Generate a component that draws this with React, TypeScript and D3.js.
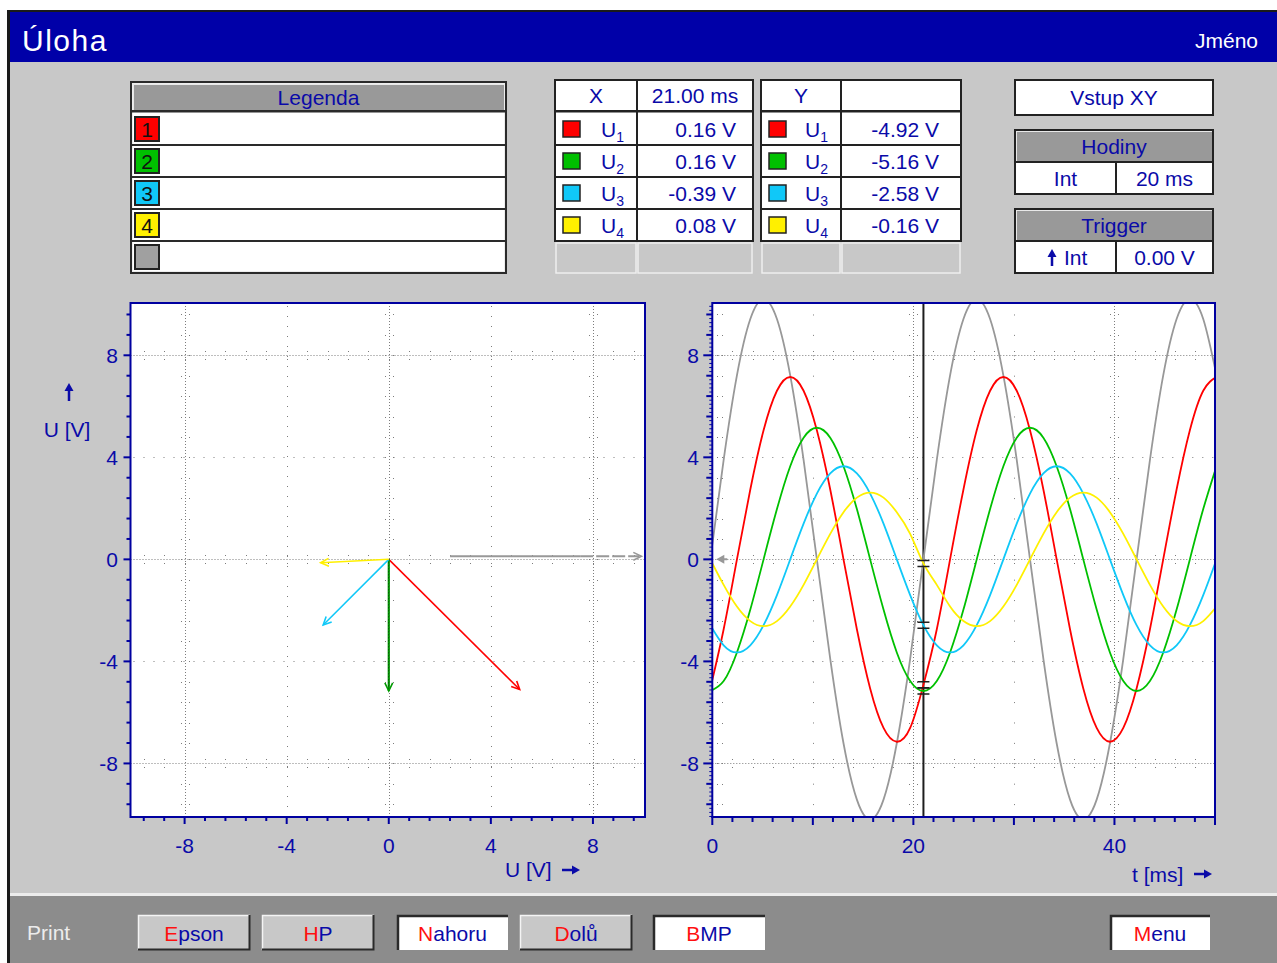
import React from 'react';
import * as d3 from 'd3';

// ---------- data ----------
const CHANNELS = ['1', '2', '3', '4'];
const CHANNEL_COLORS = ['#ff0000', '#00c000', '#10c8f8', '#fff000'];
const REF_COLOR = '#989898';

const CURSOR_MS = 21.0;
const X_READINGS = [0.16, 0.16, -0.39, 0.08];
const Y_READINGS = [-4.92, -5.16, -2.58, -0.16];
const CLOCK_MS = 20;
const TRIGGER_LEVEL = 0.0;

// sample instants of the recorded waveforms
const TIME_MS = [
  -0.2, 1.13, 2.45, 3.78, 5.1, 6.43, 7.75, 9.08, 10.4, 11.73, 13.05, 14.38, 15.7,
  17.03, 18.35, 19.68, 21.0, 22.33, 23.65, 24.98, 26.3, 27.63, 28.95, 30.28, 31.6,
  32.93, 34.25, 35.58, 36.9, 38.23, 39.55, 40.88, 42.2, 43.53, 44.85, 46.18, 47.5,
  48.83, 50.15,
];

// reference channel (grey)
const U_REF = [
  0, 3.9, 7.21, 9.42, 10.2, 9.42, 7.21, 3.9, 0, -3.9, -7.21, -9.42, -10.2, -9.42, -7.21, -3.9,
  0, 3.9, 7.21, 9.42, 10.2, 9.42, 7.21, 3.9, 0, -3.9, -7.21, -9.42, -10.2, -9.42, -7.21, -3.9,
  0, 3.9, 7.21, 9.42, 10.2, 9.42, 7.21,
];
const U1 = [
  -5.06, -2.74, 0, 2.74, 5.06, 6.61, 7.15, 6.61, 5.06, 2.74, 0, -2.74, -5.06, -6.61, -7.15, -6.61,
  -4.92, -2.74, 0, 2.74, 5.06, 6.61, 7.15, 6.61, 5.06, 2.74, 0, -2.74, -5.06, -6.61, -7.15, -6.61,
  -5.06, -2.74, 0, 2.74, 5.06, 6.61, 7.15,
];
const U2 = [
  -5.16, -4.77, -3.65, -1.97, 0, 1.97, 3.65, 4.77, 5.16, 4.77, 3.65, 1.97, 0, -1.97, -3.65, -4.77,
  -5.16, -4.77, -3.65, -1.97, 0, 1.97, 3.65, 4.77, 5.16, 4.77, 3.65, 1.97, 0, -1.97, -3.65, -4.77,
  -5.16, -4.77, -3.65, -1.97, 0, 1.97, 3.65,
];
const U3 = [
  -2.58, -3.37, -3.65, -3.37, -2.58, -1.4, 0, 1.4, 2.58, 3.37, 3.65, 3.37, 2.58, 1.4, 0, -1.4,
  -2.58, -3.37, -3.65, -3.37, -2.58, -1.4, 0, 1.4, 2.58, 3.37, 3.65, 3.37, 2.58, 1.4, 0, -1.4,
  -2.58, -3.37, -3.65, -3.37, -2.58, -1.4, 0,
];
const U4 = [
  0, -1.0, -1.85, -2.42, -2.62, -2.42, -1.85, -1.0, 0, 1.0, 1.85, 2.42, 2.62, 2.42, 1.85, 1.0,
  -0.16, -1.0, -1.85, -2.42, -2.62, -2.42, -1.85, -1.0, 0, 1.0, 1.85, 2.42, 2.62, 2.42, 1.85, 1.0,
  0, -1.0, -1.85, -2.42, -2.62, -2.42, -1.85,
];
const WAVES = [U1, U2, U3, U4];

// phasor end points in the XY view
const PHASOR_X = [5.13, 0.0, -2.57, -2.67];
const PHASOR_Y = [-5.1, -5.16, -2.57, -0.13];
// grey reference vector: start, end of solid part, tip
const REF_VECTOR_X = [2.4, 7.5, 9.9];
const REF_VECTOR_Y = 0.12;

const U_TICKS = [-8, -4, 0, 4, 8];
const T_TICKS = [0, 20, 40];

// ---------- style ----------
const NAVY = '#0a0aa8';
const FRAME = '#0000a0';
const DOT = '#7c7c7c';
const FONT = "'Liberation Sans', Arial, sans-serif";
const PANEL = '#c8c8c8';

const fmtV = (v: number) => `${v.toFixed(2)} V`;

function Txt(props: any) {
  const { x, y, children, size = 21, anchor = 'middle', fill = NAVY, ls = 0 } = props;
  return (
    <text x={x} y={y} fontSize={size} textAnchor={anchor} fill={fill} fontFamily={FONT} letterSpacing={ls}>
      {children}
    </text>
  );
}

// heavy arrow glyph drawn as a path (dir: 'right' | 'up')
function ArrowGlyph({ x, y, dir, len = 18, color = NAVY }: any) {
  if (dir === 'right') {
    return (
      <g fill={color} stroke="none">
        <rect x={x} y={y - 1.25} width={len - 6} height={2.5} />
        <path d={`M${x + len},${y} L${x + len - 8},${y - 4.5} L${x + len - 8},${y + 4.5} Z`} />
      </g>
    );
  }
  return (
    <g fill={color} stroke="none">
      <rect x={x - 1.25} y={y - len + 6} width={2.5} height={len - 6} />
      <path d={`M${x},${y - len} L${x - 4.5},${y - len + 8} L${x + 4.5},${y - len + 8} Z`} />
    </g>
  );
}

function ULabel({ x, y, i }: { x: number; y: number; i: string }) {
  return (
    <text x={x} y={y} fontSize={21} fill={NAVY} fontFamily={FONT}>
      U<tspan fontSize={14} dy={5}>{i}</tspan>
    </text>
  );
}

function GreyHeader({ x, y, w, h, label }: any) {
  return (
    <g>
      <rect x={x} y={y} width={w} height={h} fill="#999999" />
      <line x1={x} x2={x + w} y1={y + 0.5} y2={y + 0.5} stroke="#e8e8e8" />
      <line x1={x + 0.5} x2={x + 0.5} y1={y} y2={y + h} stroke="#e8e8e8" />
      <Txt x={x + w / 2} y={y + h / 2 + 7.5}>{label}</Txt>
    </g>
  );
}

function LegendTable() {
  const x0 = 131, x1 = 506;
  const rows = [113, 145, 177, 209, 241];
  const swatch = [...CHANNEL_COLORS, '#a0a0a0'];
  return (
    <g>
      <rect x={x0} y={82} width={x1 - x0} height={191} fill="#ffffff" stroke="#2a2a2a" strokeWidth={2} />
      <rect x={x0 + 1.5} y={83.5} width={x1 - x0 - 3} height={188} fill="none" stroke="#ededed" strokeWidth={1} />
      <GreyHeader x={x0 + 2} y={84} w={x1 - x0 - 4} h={26} label="Legenda" />
      <rect x={x0 + 1} y={110} width={x1 - x0 - 2} height={2.5} fill="#2a2a2a" />
      {rows.slice(1).map((ry) => (
        <rect key={ry} x={x0 + 1} y={ry - 1} width={x1 - x0 - 2} height={2} fill="#2a2a2a" />
      ))}
      {rows.map((ry, i) => (
        <g key={i}>
          <rect x={135} y={ry + 4} width={24} height={24} fill={swatch[i]} stroke="#222" strokeWidth={2} />
          {i < 4 && (
            <Txt x={147} y={ry + 24} fill="#111" size={21}>{CHANNELS[i]}</Txt>
          )}
        </g>
      ))}
    </g>
  );
}

function ReadingTable({ x0, xm, x1, head, headValue, values, swatchX, labelX, valueX }: any) {
  const rowTop = [113, 145, 177, 209];
  return (
    <g>
      <rect x={x0} y={80} width={x1 - x0} height={161} fill="#ffffff" stroke="#222" strokeWidth={2} />
      <rect x={x0} y={110} width={x1 - x0} height={2.5} fill="#222" />
      {rowTop.slice(1).map((ry) => (
        <rect key={ry} x={x0} y={ry - 1} width={x1 - x0} height={2} fill="#222" />
      ))}
      <rect x={xm - 1} y={80} width={2} height={161} fill="#222" />
      <Txt x={(x0 + xm) / 2} y={103}>{head}</Txt>
      {headValue && <Txt x={(xm + x1) / 2} y={103}>{headValue}</Txt>}
      {rowTop.map((ry, i) => (
        <g key={i}>
          <rect x={swatchX} y={ry + 8} width={17} height={16} fill={CHANNEL_COLORS[i]} stroke="#222" strokeWidth={1.5} />
          <ULabel x={labelX} y={ry + 24} i={CHANNELS[i]} />
          <Txt x={valueX} y={ry + 24} anchor="end">{fmtV(values[i])}</Txt>
        </g>
      ))}
      {/* empty spare row */}
      <rect x={x0 + 1} y={243} width={xm - x0 - 2} height={30} fill={PANEL} stroke="#eeeeee" strokeWidth={1.5} />
      <rect x={xm + 1} y={243} width={x1 - xm - 2} height={30} fill={PANEL} stroke="#eeeeee" strokeWidth={1.5} />
    </g>
  );
}

function TwoCellBox({ y, title, left, right, leftArrow }: any) {
  const x0 = 1015, x1 = 1213, xm = 1116;
  return (
    <g>
      <rect x={x0} y={y} width={x1 - x0} height={64} fill="#ffffff" stroke="#222" strokeWidth={2} />
      <GreyHeader x={x0 + 1} y={y + 1} w={x1 - x0 - 2} h={30} label={title} />
      <rect x={x0} y={y + 31} width={x1 - x0} height={2} fill="#222" />
      <rect x={xm - 1} y={y + 31} width={2} height={33} fill="#222" />
      {leftArrow ? (
        <>
          <ArrowGlyph x={1052} y={y + 57} dir="up" len={17} />
          <Txt x={1064} y={y + 56} anchor="start">{left}</Txt>
        </>
      ) : (
        <Txt x={(x0 + xm) / 2} y={y + 56}>{left}</Txt>
      )}
      <Txt x={(xm + x1) / 2} y={y + 56}>{right}</Txt>
    </g>
  );
}

function Button({ x, w, label, sunken }: any) {
  const y = 915, h = 35;
  return (
    <g>
      <rect x={x} y={y} width={w} height={h} fill={sunken ? '#ffffff' : PANEL} />
      {sunken ? (
        <path d={`M${x + 1},${y + h} V${y + 1} H${x + w}`} fill="none" stroke="#2a2a2a" strokeWidth={2.5} />
      ) : (
        <>
          <path d={`M${x + 0.5},${y + h} V${y + 0.5} H${x + w}`} fill="none" stroke="#f4f4f4" strokeWidth={1.5} />
          <path d={`M${x},${y + h - 0.5} H${x + w - 0.5} V${y}`} fill="none" stroke="#2a2a2a" strokeWidth={2} />
        </>
      )}
      <text x={x + w / 2} y={y + 26} textAnchor="middle" fontSize={21} fontFamily={FONT}>
        <tspan fill="#ff1010">{label[0]}</tspan>
        <tspan fill={NAVY}>{label.slice(1)}</tspan>
      </text>
    </g>
  );
}

function Arrowhead({ x, y, angle, color, size = 9 }: any) {
  const a1 = angle + Math.PI - 0.45;
  const a2 = angle + Math.PI + 0.45;
  return (
    <path
      d={`M${x + size * Math.cos(a1)},${y + size * Math.sin(a1)} L${x},${y} L${x + size * Math.cos(a2)},${y + size * Math.sin(a2)}`}
      fill="none"
      stroke={color}
      strokeWidth={1.6}
    />
  );
}

function Dots({ pts }: { pts: [number, number][] }) {
  return (
    <g fill={DOT}>
      {pts.map(([px, py], i) => (
        <rect key={i} x={Math.round(px)} y={Math.round(py)} width={1} height={1} />
      ))}
    </g>
  );
}

export default function App() {
  const xL = d3.scaleLinear().domain([-10.12, 10.04]).range([130.5, 645]);
  const yU = d3.scaleLinear().domain([-10.1, 10.05]).range([817, 303]);
  const xT = d3.scaleLinear().domain([0, 50]).range([712.3, 1215]);

  const stepU = d3.range(-12, 13).map((k) => +(k * 0.8).toFixed(2));
  const stepT = d3.range(0, 51, 2);
  const combU = d3.range(-63, 63).map((k) => k * 0.16);
  const dense = [-8, 0, 8];
  const sparse = [-4, 4];

  const L = { x0: 130.5, x1: 645, y0: 303, y1: 817 };
  const R = { x0: 712.3, x1: 1215, y0: 303, y1: 817 };
  const px = (v: number) => Math.round(v) + 0.5;

  const wave = d3
    .line<number>()
    .x((_, i) => xT(TIME_MS[i]))
    .y((d) => yU(d))
    .curve(d3.curveNatural);

  // ---- grid dots ----
  const crossDotsL: [number, number][] = [];
  dense.forEach((v) => {
    stepU.forEach((p) => {
      if (p === v) return;
      crossDotsL.push([xL(p), yU(v) - 4], [xL(p), yU(v) + 4]);
      crossDotsL.push([xL(v) - 4, yU(p)], [xL(v) + 4, yU(p)]);
    });
  });
  const crossDotsR: [number, number][] = [];
  dense.forEach((v) => {
    stepT.forEach((p) => {
      if (p === 0 || p === 50) return;
      crossDotsR.push([xT(p), yU(v) - 4], [xT(p), yU(v) + 4]);
    });
  });
  [20, 40].forEach((t) => {
    stepU.forEach((p) => {
      crossDotsR.push([xT(t) - 4, yU(p)], [xT(t) + 4, yU(p)]);
    });
  });
  stepU.forEach((p) => {
    crossDotsR.push([xT(0) + 5, yU(p)], [xT(0) + 10, yU(p)]);
  });

  const cx = xT(CURSOR_MS);

  return (
    <div style={{ position: 'absolute', left: 0, top: 0 }}>
      <svg width={1277} height={963} viewBox="0 0 1277 963" style={{ display: 'block' }}>
        <defs>
          <clipPath id="clipL">
            <rect x={L.x0} y={L.y0} width={L.x1 - L.x0} height={L.y1 - L.y0} />
          </clipPath>
          <clipPath id="clipR">
            <rect x={R.x0} y={R.y0} width={R.x1 - R.x0} height={R.y1 - R.y0} />
          </clipPath>
        </defs>

        {/* window */}
        <rect x={0} y={0} width={1277} height={963} fill="#ffffff" />
        <rect x={7} y={10} width={1270} height={953} fill="#1a1a1a" />
        <rect x={10} y={12} width={1267} height={951} fill={PANEL} />
        <rect x={10} y={12} width={1267} height={50} fill="#0000a8" />
        <text x={22} y={51} fontSize={30} fill="#ffffff" fontFamily={FONT} letterSpacing={1.5}>Úloha</text>
        <text x={1258} y={48} fontSize={21} fill="#ffffff" fontFamily={FONT} textAnchor="end">Jméno</text>

        {/* info tables */}
        <LegendTable />
        <ReadingTable x0={555} xm={637} x1={753} head="X" headValue={`${CURSOR_MS.toFixed(2)} ms`} values={X_READINGS} swatchX={563} labelX={601} valueX={736} />
        <ReadingTable x0={761} xm={841} x1={961} head="Y" headValue="" values={Y_READINGS} swatchX={769} labelX={805} valueX={939} />

        <rect x={1015} y={80} width={198} height={35} fill="#ffffff" stroke="#222" strokeWidth={2} />
        <Txt x={1114} y={105}>Vstup XY</Txt>
        <TwoCellBox y={130} title="Hodiny" left="Int" right={`${CLOCK_MS} ms`} />
        <TwoCellBox y={209} title="Trigger" left="Int" right={fmtV(TRIGGER_LEVEL)} leftArrow />

        {/* ===== XY plot ===== */}
        <rect x={L.x0} y={L.y0} width={L.x1 - L.x0} height={L.y1 - L.y0} fill="#ffffff" />
        <g stroke={DOT} strokeWidth={1}>
          {dense.map((v) => (
            <g key={'d' + v}>
              <line x1={L.x0} x2={L.x1} y1={px(yU(v))} y2={px(yU(v))} strokeDasharray="1 2" />
              <line y1={L.y0} y2={L.y1} x1={px(xL(v))} x2={px(xL(v))} strokeDasharray="1 2" />
            </g>
          ))}
          {sparse.map((v) => (
            <g key={'s' + v}>
              <line x1={L.x0 + 3} x2={L.x1} y1={px(yU(v))} y2={px(yU(v))} strokeDasharray="1 9" />
              <line y1={L.y0 + 3} y2={L.y1} x1={px(xL(v))} x2={px(xL(v))} strokeDasharray="1 9" />
            </g>
          ))}
        </g>
        <Dots pts={crossDotsL} />

        <g clipPath="url(#clipL)">
          {/* reference vector */}
          <line x1={xL(REF_VECTOR_X[0])} x2={xL(REF_VECTOR_X[1])} y1={yU(REF_VECTOR_Y)} y2={yU(REF_VECTOR_Y)} stroke={REF_COLOR} strokeWidth={2} />
          <line x1={xL(REF_VECTOR_X[1])} x2={xL(REF_VECTOR_X[2]) - 2} y1={yU(REF_VECTOR_Y)} y2={yU(REF_VECTOR_Y)} stroke={REF_COLOR} strokeWidth={2} strokeDasharray="13 3" />
          <Arrowhead x={xL(REF_VECTOR_X[2])} y={yU(REF_VECTOR_Y)} angle={0} color={REF_COLOR} />
          {PHASOR_X.map((vx, i) => {
            const x0 = xL(0), y0 = yU(0), x1 = xL(vx), y1 = yU(PHASOR_Y[i]);
            const ang = Math.atan2(y1 - y0, x1 - x0);
            return (
              <g key={i}>
                <line x1={x0} y1={y0} x2={x1} y2={y1} stroke={i === 1 ? '#009a00' : CHANNEL_COLORS[i]} strokeWidth={i === 1 ? 2.2 : 1.5} />
                {i === 1 && <line x1={x0} y1={y0} x2={x1} y2={y1} stroke="#0a2a0a" strokeWidth={1} strokeDasharray="1 2" />}
                <Arrowhead x={x1} y={y1} angle={ang} color={i === 1 ? '#009a00' : CHANNEL_COLORS[i]} />
              </g>
            );
          })}
        </g>
        <rect x={L.x0} y={L.y0} width={L.x1 - L.x0} height={L.y1 - L.y0} fill="none" stroke={FRAME} strokeWidth={2} />

        {/* XY axes */}
        <g stroke={FRAME} strokeWidth={2}>
          {stepU.map((v) => {
            const major = Math.abs(v % 4) < 1e-6;
            const len = major ? 7 : 4;
            return (
              <g key={v}>
                <line x1={L.x0 - len} x2={L.x0} y1={yU(v)} y2={yU(v)} />
                <line y1={L.y1} y2={L.y1 + len} x1={xL(v)} x2={xL(v)} />
              </g>
            );
          })}
        </g>
        {U_TICKS.map((v) => (
          <g key={v}>
            <Txt x={118} y={yU(v) + 8} anchor="end">{v}</Txt>
            <Txt x={xL(v)} y={853}>{v}</Txt>
          </g>
        ))}
        <ArrowGlyph x={69} y={401} dir="up" len={18} />
        <Txt x={67} y={437}>U [V]</Txt>
        <Txt x={505} y={877} anchor="start">U [V]</Txt>
        <ArrowGlyph x={562} y={870} dir="right" len={18} />

        {/* ===== time plot ===== */}
        <rect x={R.x0} y={R.y0} width={R.x1 - R.x0} height={R.y1 - R.y0} fill="#ffffff" />
        <g stroke={DOT} strokeWidth={1}>
          {dense.map((v) => (
            <line key={'hd' + v} x1={R.x0} x2={R.x1} y1={px(yU(v))} y2={px(yU(v))} strokeDasharray="1 2" />
          ))}
          {sparse.map((v) => (
            <line key={'hs' + v} x1={R.x0 + 10} x2={R.x1} y1={px(yU(v))} y2={px(yU(v))} strokeDasharray="1 9" />
          ))}
          {[20, 40].map((t) => (
            <line key={'vd' + t} y1={R.y0} y2={R.y1} x1={px(xT(t))} x2={px(xT(t))} strokeDasharray="1 2" />
          ))}
          {[10, 30].map((t) => (
            <line key={'vs' + t} y1={yU(9.6)} y2={R.y1} x1={px(xT(t))} x2={px(xT(t))} strokeDasharray="1 19.4" />
          ))}
        </g>
        <Dots pts={crossDotsR} />

        <g clipPath="url(#clipR)">
          <line x1={cx} x2={cx} y1={R.y0} y2={R.y1} stroke="#1e1e1e" strokeWidth={2} />
          <path d={wave(U_REF) || ''} fill="none" stroke={REF_COLOR} strokeWidth={1.8} />
          {WAVES.map((w, i) => (
            <path key={i} d={wave(w) || ''} fill="none" stroke={CHANNEL_COLORS[i]} strokeWidth={1.8} />
          ))}
          {/* trigger level marker */}
          <path d={`M${R.x0 + 4},${yU(TRIGGER_LEVEL)} l8,-4.5 v9 z`} fill={REF_COLOR} />
          <line x1={R.x0 + 10} x2={R.x0 + 15} y1={yU(TRIGGER_LEVEL)} y2={yU(TRIGGER_LEVEL)} stroke={REF_COLOR} strokeWidth={2} />
          {/* cursor read-outs */}
          {Y_READINGS.map((v, i) => (
            <path
              key={i}
              d={`M${cx - 6},${yU(v) - 3} H${cx + 6} M${cx - 6},${yU(v) + 3} H${cx + 6}`}
              stroke="#1e1e1e"
              strokeWidth={1.5}
              fill="none"
            />
          ))}
        </g>
        <rect x={R.x0} y={R.y0} width={R.x1 - R.x0} height={R.y1 - R.y0} fill="none" stroke={FRAME} strokeWidth={2} />

        {/* time axes */}
        <g stroke={FRAME}>
          {combU.map((v) => (
            <line key={'c' + v} x1={R.x0 - 3} x2={R.x0} y1={yU(v)} y2={yU(v)} strokeWidth={1} />
          ))}
          {stepU.map((v) => {
            const major = Math.abs(v % 4) < 1e-6;
            return <line key={v} x1={R.x0 - (major ? 9 : 6)} x2={R.x0} y1={yU(v)} y2={yU(v)} strokeWidth={2} />;
          })}
          {stepT.map((t) => {
            const major = t % 10 === 0;
            return <line key={'t' + t} y1={R.y1} y2={R.y1 + (major ? 8 : 5)} x1={xT(t)} x2={xT(t)} strokeWidth={2} />;
          })}
        </g>
        {U_TICKS.map((v) => (
          <Txt key={v} x={699} y={yU(v) + 8} anchor="end">{v}</Txt>
        ))}
        {T_TICKS.map((t) => (
          <Txt key={t} x={xT(t)} y={853}>{t}</Txt>
        ))}
        <Txt x={1132} y={882} anchor="start">t [ms]</Txt>
        <ArrowGlyph x={1194} y={874} dir="right" len={18} />

        {/* bottom bar */}
        <rect x={10} y={893} width={1267} height={3} fill="#ececec" />
        <rect x={10} y={896} width={1267} height={67} fill="#8c8c8c" />
        <Txt x={27} y={940} anchor="start" fill="#ececec">Print</Txt>
        <Button x={138} w={112} label="Epson" />
        <Button x={262} w={112} label="HP" />
        <Button x={397} w={111} label="Nahoru" sunken />
        <Button x={520} w={112} label="Dolů" />
        <Button x={653} w={112} label="BMP" sunken />
        <Button x={1110} w={100} label="Menu" sunken />
      </svg>
    </div>
  );
}
